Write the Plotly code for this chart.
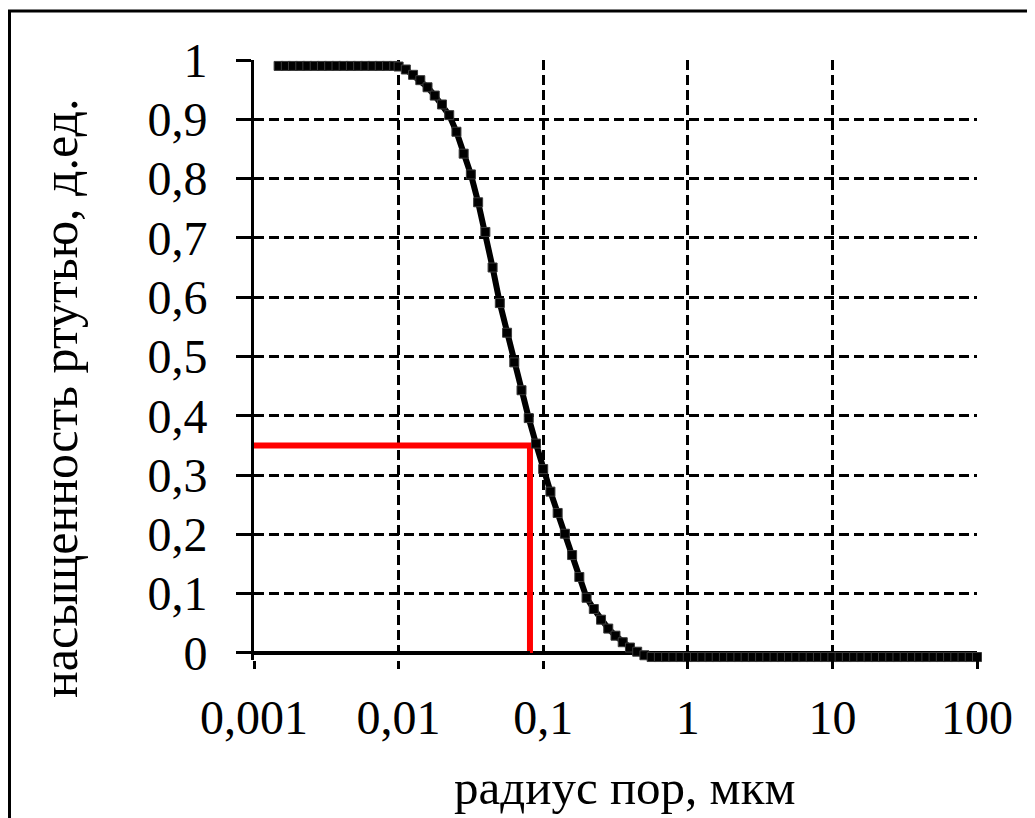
import plotly.graph_objects as go

# pore radius, µm
radius = [0.00148, 0.00166, 0.00186, 0.00209, 0.00234, 0.00263, 0.00295, 0.00331,
          0.00372, 0.00417, 0.00468, 0.00525, 0.00589, 0.00661, 0.00741, 0.00832,
          0.00933, 0.0100,
          0.01122, 0.01259, 0.01413, 0.01585, 0.01778, 0.01995, 0.02239, 0.02512,
          0.02818, 0.03162, 0.03548, 0.03981, 0.04467, 0.05012, 0.05623, 0.06310,
          0.07079, 0.07943, 0.08913, 0.1000, 0.1122, 0.1259, 0.1413, 0.1585,
          0.1778, 0.1995, 0.2239, 0.2512, 0.2818, 0.3162, 0.3548, 0.3981,
          0.4467, 0.5012,
          0.5623, 0.631, 0.7079, 0.7943, 0.8913, 1.0, 1.122, 1.259, 1.413, 1.585,
          1.778, 1.995, 2.239, 2.512, 2.818, 3.162, 3.548, 3.981, 4.467, 5.012,
          5.623, 6.31, 7.079, 7.943, 8.913, 10.0, 11.22, 12.59, 14.13, 15.85,
          17.78, 19.95, 22.39, 25.12, 28.18, 31.62, 35.48, 39.81, 44.67, 50.12,
          56.23, 63.1, 70.79, 79.43, 89.13, 100.0]

# mercury saturation, fraction
saturation = [0.99, 0.99, 0.99, 0.99, 0.99, 0.99, 0.99, 0.99,
              0.99, 0.99, 0.99, 0.99, 0.99, 0.99, 0.99, 0.99,
              0.99, 0.989,
              0.984, 0.975, 0.966, 0.954, 0.94, 0.925, 0.907, 0.879,
              0.842, 0.807, 0.76, 0.71, 0.65, 0.59, 0.54, 0.49,
              0.443, 0.396, 0.353, 0.31, 0.272, 0.236, 0.201, 0.165,
              0.128, 0.093, 0.074, 0.056, 0.041, 0.029, 0.018, 0.009,
              0.002, -0.004,
              -0.007, -0.007, -0.007, -0.007, -0.007, -0.007, -0.007, -0.007, -0.007, -0.007,
              -0.007, -0.007, -0.007, -0.007, -0.007, -0.007, -0.007, -0.007, -0.007, -0.007,
              -0.007, -0.007, -0.007, -0.007, -0.007, -0.007, -0.007, -0.007, -0.007, -0.007,
              -0.007, -0.007, -0.007, -0.007, -0.007, -0.007, -0.007, -0.007, -0.007, -0.007,
              -0.007, -0.007, -0.007, -0.007, -0.007, -0.007]

# red guide: radius at the chosen saturation
guide_radius = 0.081
guide_saturation = 0.35

x_range_log = [-3, 2]
y_range = [-0.012, 1]

x_tickvals = [0.001, 0.01, 0.1, 1, 10, 100]
x_ticktext = ["0,001", "0,01", "0,1", "1", "10", "100"]
y_tickvals = [0, 0.1, 0.2, 0.3, 0.4, 0.5, 0.6, 0.7, 0.8, 0.9, 1]
y_ticktext = ["0", "0,1", "0,2", "0,3", "0,4", "0,5", "0,6", "0,7", "0,8", "0,9", "1"]

x_title = "радиус пор, мкм"
y_title = "насыщенность ртутью, д.ед."

FONT = "Liberation Serif, Times New Roman, serif"

# the page puts the figure 8 px in from the top-left corner
OFF = 8
W, H = 1035 - OFF, 818 - OFF
L, R, T, B = 254 - OFF, 58, 60 - OFF, 818 - 660
pw, ph = W - L - R, H - T - B


def px(xs):
    return (xs - OFF - L) / pw


def py(ys):
    return (H - B - (ys - OFF)) / ph


fig = go.Figure()

fig.add_trace(go.Scatter(
    x=[x_tickvals[0], guide_radius, guide_radius],
    y=[guide_saturation, guide_saturation, 0],
    mode="lines", line=dict(color="#FF0000", width=6),
    hoverinfo="skip", showlegend=False))

fig.add_trace(go.Scatter(
    x=radius, y=saturation, mode="lines+markers",
    line=dict(color="black", width=6),
    marker=dict(symbol="square", size=9, color="black",
                line=dict(color="#3a3a3a", width=1)),
    cliponaxis=False, showlegend=False))

fig.update_layout(
    width=W, height=H,
    margin=dict(l=L, r=R, t=T, b=B, pad=0),
    paper_bgcolor="white", plot_bgcolor="white",
    font=dict(family=FONT, size=48, color="black"),
    showlegend=False,
    xaxis=dict(
        type="log", range=x_range_log,
        tickvals=x_tickvals, ticktext=x_ticktext,
        showgrid=True, gridcolor="black", gridwidth=3, griddash="10px,5px",
        showline=False,
        ticks="outside", ticklen=8, tickwidth=3, tickcolor="black",
        ticklabelstandoff=7,
        tickfont=dict(family=FONT, size=48, color="black"),
        zeroline=False, fixedrange=True),
    yaxis=dict(
        range=y_range,
        tickvals=y_tickvals, ticktext=y_ticktext,
        showgrid=True, gridcolor="black", gridwidth=3, griddash="10px,5px",
        showline=True, linecolor="black", linewidth=3,
        ticks="outside", ticklen=15, tickwidth=3, tickcolor="black",
        ticklabelstandoff=19,
        tickfont=dict(family=FONT, size=48, color="black"),
        zeroline=False, fixedrange=True),
    annotations=[
        dict(text=x_title, xref="paper", yref="paper",
             x=px(624), y=py(787), xanchor="center", yanchor="middle",
             showarrow=False, font=dict(family=FONT, size=49, color="black")),
        dict(text=y_title, xref="paper", yref="paper", textangle=-90,
             x=px(60), y=py(398), xanchor="center", yanchor="middle",
             showarrow=False, font=dict(family=FONT, size=50, color="black")),
    ],
    shapes=[
        # x axis line at saturation 0
        dict(type="line", xref="x", yref="y",
             x0=x_tickvals[0], x1=guide_radius, y0=0, y1=0,
             line=dict(color="black", width=4), layer="above"),
        dict(type="line", xref="x", yref="y",
             x0=guide_radius, x1=x_tickvals[-1], y0=0, y1=0,
             line=dict(color="black", width=4), layer="below"),
        # outer frame
        dict(type="rect", xref="paper", yref="paper",
             x0=px(9.5), x1=px(1060), y0=py(850), y1=py(11),
             line=dict(color="black", width=3), fillcolor="rgba(0,0,0,0)",
             layer="below"),
    ],
)

fig.write_html("out.html")
